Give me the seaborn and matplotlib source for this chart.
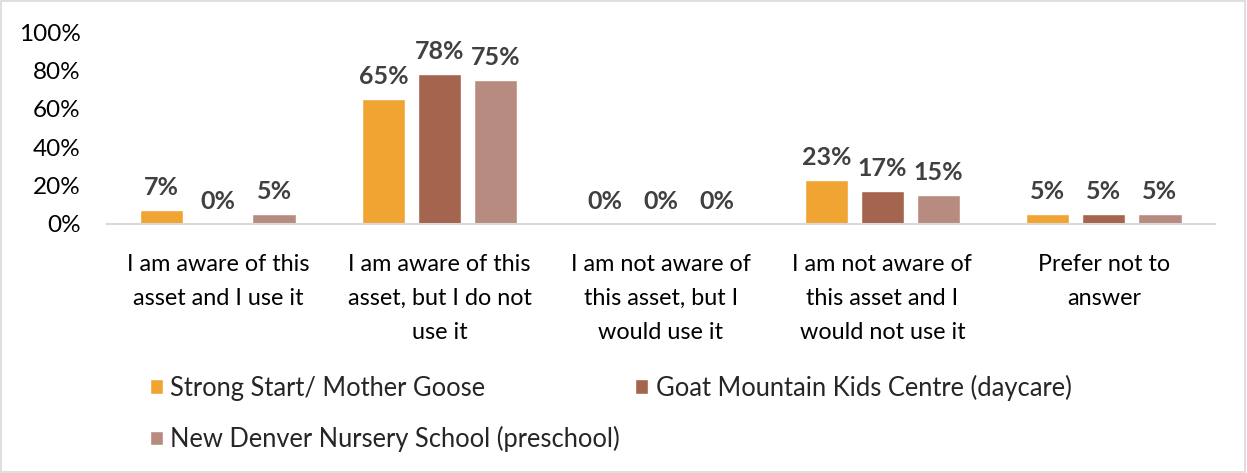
import matplotlib
matplotlib.use("Agg")
import matplotlib.pyplot as plt
from matplotlib.patches import Rectangle
from matplotlib.ticker import FuncFormatter
import seaborn as sns
import pandas as pd

categories = [
    "I am aware of this\nasset and I use it",
    "I am aware of this\nasset, but I do not\nuse it",
    "I am not aware of\nthis asset, but I\nwould use it",
    "I am not aware of\nthis asset and I\nwould not use it",
    "Prefer not to\nanswer",
]
series = [
    "Strong Start/ Mother Goose",
    "Goat Mountain Kids Centre (daycare)",
    "New Denver Nursery School (preschool)",
]
strong_start = [7, 65, 0, 23, 5]
goat_mountain = [0, 78, 0, 17, 5]
new_denver = [5, 75, 0, 15, 5]
colors = ["#F0A431", "#A5644E", "#B88B80"]

rows = []
for name, vals in zip(series, [strong_start, goat_mountain, new_denver]):
    for cat, v in zip(categories, vals):
        rows.append({"category": cat, "series": name, "value": v})
df = pd.DataFrame(rows)

sns.set_style("white")
plt.rcParams["font.family"] = ["Lato", "DejaVu Sans"]

fig = plt.figure(figsize=(12.47, 4.73), dpi=100)
ax = fig.add_axes([0.086, 0.527, 0.888, 0.405])

sns.barplot(data=df, x="category", y="value", hue="series", palette=colors,
            width=0.76, gap=0.23, ax=ax, legend=True, saturation=1)

for cont in ax.containers:
    ax.bar_label(cont, labels=[f"{int(round(b.get_height()))}%" for b in cont],
                 padding=8, fontsize=18, fontweight="bold", color="#404040")

ax.set_ylim(0, 100)
ax.set_yticks(range(0, 101, 20))
ax.yaxis.set_major_formatter(FuncFormatter(lambda v, p: f"{int(v)}%"))
ax.set_xlim(-0.5, 4.5)
ax.tick_params(axis="y", labelsize=17.5, colors="#000000", length=0, pad=19)
ax.tick_params(axis="x", labelsize=16.8, colors="#000000", length=0, pad=22)
for lab in ax.get_xticklabels():
    lab.set_linespacing(1.75)
ax.set_xlabel("")
ax.set_ylabel("")
for s in ["top", "right", "left"]:
    ax.spines[s].set_visible(False)
ax.spines["bottom"].set_color("#D9D9D9")
ax.spines["bottom"].set_linewidth(1.5)

# legend filled row by row: first two series on top, third below
handles, labels = ax.get_legend_handles_labels()
ax.legend_.remove()
order = [0, 2, 1]
leg = fig.legend([handles[i] for i in order], [labels[i] for i in order],
                 loc="upper left", bbox_to_anchor=(0.112, 0.23),
                 ncol=2, frameon=False, fontsize=18.4, handlelength=0.5,
                 handleheight=0.5, handletextpad=0.3, columnspacing=0.6,
                 labelspacing=1.0, borderaxespad=0)

fig.patches.append(Rectangle((0.001, 0.002), 0.997, 0.995, transform=fig.transFigure,
                             fill=False, edgecolor="#D9D9D9", linewidth=1.2))

fig.savefig("out.png", dpi=100, facecolor="white")
